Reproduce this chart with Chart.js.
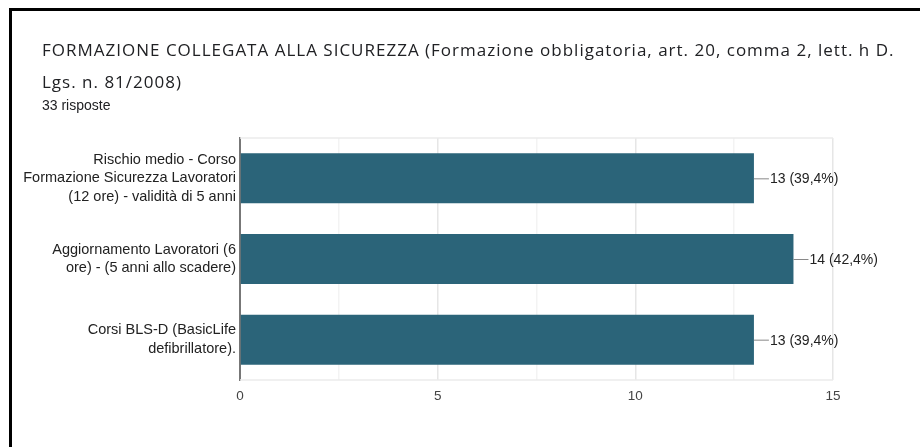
<!DOCTYPE html>
<html>
<head>
<meta charset="utf-8">
<script src="https://cdn.jsdelivr.net/npm/chart.js@4.4.1/dist/chart.umd.min.js"></script>
<style>
  body { margin: 0; background: #fff; }
  #wrap { position: relative; width: 920px; height: 447px; overflow: hidden; }
  #frame { position: absolute; left: 9px; top: 8px; right: -5px; bottom: -5px;
           border-left: 3px solid #000; border-top: 3px solid #000; }
  #title { position: absolute; left: 42px; top: 34px; font-family: "Open Sans", sans-serif;
           font-size: 17px; line-height: 32px; color: #202124; white-space: nowrap;
           letter-spacing: 1px; }
  #sub { position: absolute; left: 42px; top: 96px; font-family: "Liberation Sans", Arial, sans-serif;
         font-size: 14px; line-height: 18px; color: #202124; }
  canvas { position: absolute; left: 0; top: 0; }
</style>
</head>
<body>
<div id="wrap">
  <canvas id="myChart" width="920" height="447"></canvas>
  <div id="frame"></div>
  <div id="title">FORMAZIONE COLLEGATA ALLA SICUREZZA (Formazione obbligatoria, art. 20, comma 2, lett. h D.<br>Lgs. n. 81/2008)</div>
  <div id="sub">33 risposte</div>
</div>
<script>
// data
var categories = [
    ["Rischio medio - Corso", "Formazione Sicurezza Lavoratori", "(12 ore) - validità di 5 anni"],
    ["Aggiornamento Lavoratori (6", "ore) - (5 anni allo scadere)"],
    ["Corsi BLS-D (BasicLife", "defibrillatore)."]
];
var counts = [13, 14, 13];
var valueLabels = ["13 (39,4%)", "14 (42,4%)", "13 (39,4%)"];
var xTicks = [0, 5, 10, 15];

// value labels with little leader line
var barLabels = {
    id: "barLabels",
    afterDatasetsDraw: function(chart){
        var ctx = chart.ctx;
        var meta = chart.getDatasetMeta(0);
        ctx.save();
        ctx.font = "14px 'Liberation Sans', Arial, sans-serif";
        ctx.textBaseline = "middle";
        for(var i=0; i<meta.data.length; i++){
            var bar = meta.data[i];
            ctx.strokeStyle = "#888";
            ctx.lineWidth = 1;
            ctx.beginPath();
            ctx.moveTo(bar.x, bar.y + 0.5);
            ctx.lineTo(bar.x + 15, bar.y + 0.5);
            ctx.stroke();
            ctx.fillStyle = "#222";
            ctx.fillText(valueLabels[i], bar.x + 16, bar.y + 1);
        }
        ctx.restore();
    }
};

// light frame round the plot area
var plotFrame = {
    id: "plotFrame",
    beforeDatasetsDraw: function(chart){
        var a = chart.chartArea;
        var ctx = chart.ctx;
        ctx.save();
        ctx.strokeStyle = "#ececec";
        ctx.lineWidth = 1.5;
        ctx.beginPath();
        ctx.moveTo(a.left, a.top);
        ctx.lineTo(a.right, a.top);
        ctx.moveTo(a.left, a.bottom);
        ctx.lineTo(a.right, a.bottom);
        ctx.stroke();
        ctx.restore();
    }
};

var ctx = document.getElementById("myChart").getContext("2d");
var myChart = new Chart(ctx, {
    type: "bar",
    data: {
        labels: categories,
        datasets: [{
            data: counts,
            backgroundColor: "#2b6479",
            borderWidth: 0,
            barPercentage: 0.62,
            categoryPercentage: 1
        }]
    },
    options: {
        indexAxis: "y",
        responsive: false,
        animation: false,
        layout: { padding: { top: 138, right: 87, bottom: 0, left: 0 } },
        plugins: {
            legend: { display: false },
            tooltip: { enabled: false }
        },
        scales: {
            x: {
                min: 0,
                max: 15,
                afterBuildTicks: function(scale){
                    var t = [];
                    for(var v=0; v<=15; v+=2.5) t.push({ value: v });
                    scale.ticks = t;
                },
                afterFit: function(scale){ scale.height = 67; },
                grid: {
                    drawTicks: false,
                    color: function(c){
                        return xTicks.indexOf(c.tick.value) >= 0 ? "#e6e6e6" : "#f3f3f3";
                    },
                    lineWidth: 1.5
                },
                border: { display: false },
                ticks: {
                    padding: 8,
                    color: "#444",
                    font: { family: "'Liberation Sans', Arial, sans-serif", size: 13.5 },
                    callback: function(v){ return xTicks.indexOf(v) >= 0 ? v : ""; }
                }
            },
            y: {
                afterFit: function(scale){ scale.width = 240; },
                grid: { display: false, drawTicks: false },
                border: { display: true, color: "#777", width: 2 },
                ticks: {
                    padding: 4,
                    color: "#222",
                    font: { family: "'Liberation Sans', Arial, sans-serif", size: 14.5, lineHeight: 1.28 }
                }
            }
        }
    },
    plugins: [plotFrame, barLabels]
});
</script>
</body>
</html>
